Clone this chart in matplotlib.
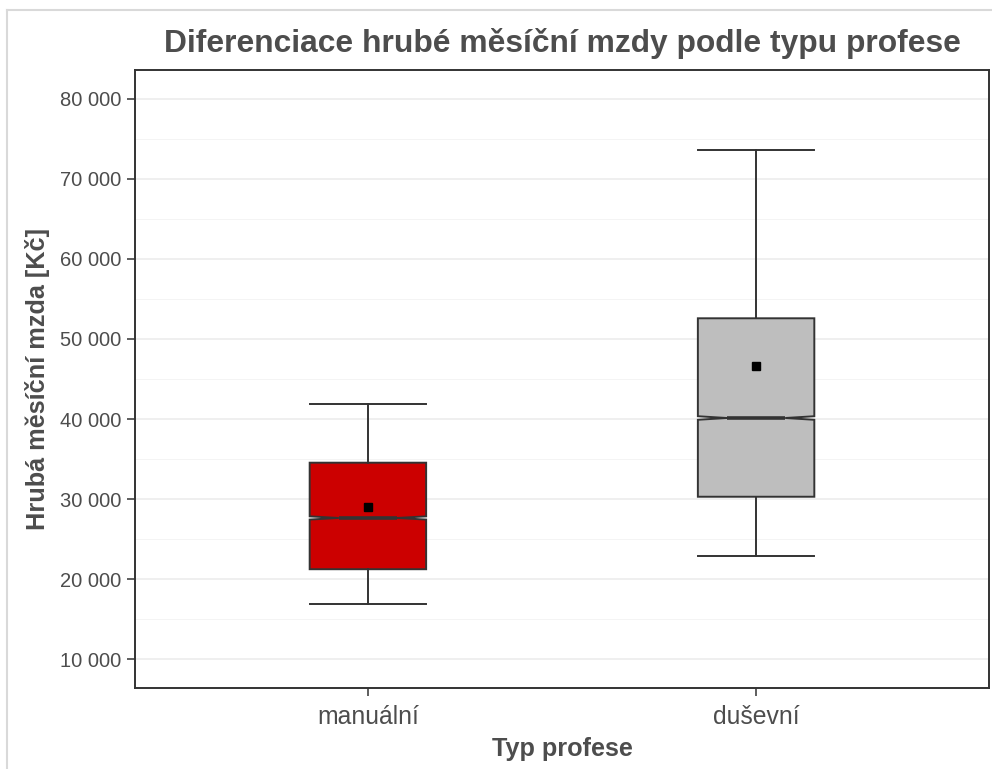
import matplotlib.pyplot as plt
from matplotlib.lines import Line2D
from matplotlib.ticker import FuncFormatter, MultipleLocator

plt.rcParams['font.family'] = ['Liberation Sans', 'DejaVu Sans']

categories = ['manuální', 'duševní']
whis_lo = [16900, 22900]
q1 = [21250, 30300]
median = [27650, 40130]
q3 = [34550, 52580]
whis_hi = [41900, 73600]
means = [29060, 46660]
ci_half = [200, 220]
colors = ['#CC0000', '#BEBEBE']

TXT = '#4D4D4D'
EDGE = '#333333'

fig = plt.figure(figsize=(9.92, 7.69), dpi=100)
ax = fig.add_axes([135 / 992, 1 - 688 / 769, (989 - 135) / 992, (688 - 70) / 769])

stats = []
for i, name in enumerate(categories):
    stats.append(dict(label=name, whislo=whis_lo[i], q1=q1[i], med=median[i],
                      q3=q3[i], whishi=whis_hi[i], mean=means[i],
                      cilo=median[i] - ci_half[i], cihi=median[i] + ci_half[i],
                      fliers=[]))

pos = [1, 2]
bp = ax.bxp(stats, positions=pos, widths=0.3, capwidths=0.3, shownotches=True,
            patch_artist=True, showmeans=True, zorder=3,
            boxprops=dict(edgecolor=EDGE, linewidth=1.4),
            whiskerprops=dict(color=EDGE, linewidth=1.4),
            capprops=dict(color=EDGE, linewidth=1.4),
            medianprops=dict(color=EDGE, linewidth=2.6),
            meanprops=dict(marker='s', markerfacecolor='black',
                           markeredgecolor='black', markersize=6))
for patch, c in zip(bp['boxes'], colors):
    patch.set_facecolor(c)

ax.set_xlim(0.4, 2.6)
ax.set_ylim(6420, 83580)
ax.yaxis.set_major_locator(MultipleLocator(10000))
ax.yaxis.set_minor_locator(MultipleLocator(5000))
ax.yaxis.set_major_formatter(FuncFormatter(lambda v, p: f'{int(v):,}'.replace(',', ' ')))
ax.set_xticks(pos)
ax.set_xticklabels(categories)

ax.grid(axis='y', which='major', color='#EBEBEB', linewidth=1.1, zorder=0)
ax.grid(axis='y', which='minor', color='#F2F2F2', linewidth=0.6, zorder=0)
ax.set_axisbelow(True)

for s in ax.spines.values():
    s.set_color('#333333')
    s.set_linewidth(1.4)

ax.tick_params(axis='y', which='minor', length=0)
ax.tick_params(axis='both', which='major', length=6, width=1.1, color='#333333')
ax.tick_params(axis='y', labelsize=14.5, labelcolor=TXT, pad=4)
ax.tick_params(axis='x', labelsize=17.8, labelcolor=TXT, pad=6)

ax.set_xlabel('Typ profese', fontsize=18.2, fontweight='bold', color=TXT, labelpad=6)
ax.set_ylabel('Hrubá měsíční mzda [Kč]', fontsize=18.2, fontweight='bold', color=TXT, labelpad=7)
ax.set_title('Diferenciace hrubé měsíční mzdy podle typu profese',
             fontsize=22.9, fontweight='bold', color=TXT, pad=13)

# light frame of the original screenshot
fig.add_artist(Line2D([7 / 992, 7 / 992], [0, 1 - 10 / 769], color='#D9D9D9', linewidth=1.5))
fig.add_artist(Line2D([7 / 992, 1], [1 - 10 / 769, 1 - 10 / 769], color='#D9D9D9', linewidth=1.5))

fig.savefig('out.png', dpi=100)
